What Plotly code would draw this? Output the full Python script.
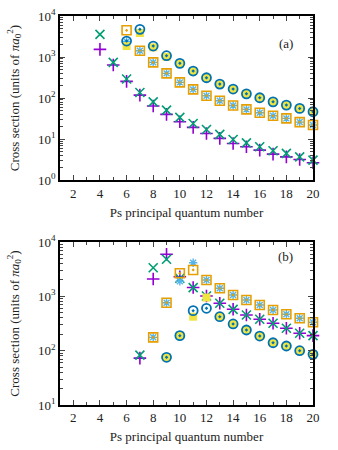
"""Ps formation cross sections, two panels, log scale."""
import plotly.graph_objects as go
from plotly.subplots import make_subplots

# panel (a)
n_a_pair1 = list(range(4, 21))
plus_a = [1540, 638, 255, 118, 64, 40, 26.5, 19.3, 13.7, 10.4, 7.8, 6.5, 5.4, 4.3, 3.7, 3.2, 2.65]
cross_a = [3580, 741, 291, 137, 81, 51, 33.8, 24, 17.2, 13.0, 9.8, 8.1, 6.5, 5.2, 4.5, 3.7, 3.07]

n_a_pair2 = list(range(6, 21))
star_a = [2400, 1425, 741, 400, 241, 163, 114, 86, 66, 53, 43.8, 37, 32, 26, 22]
square_a = [4480, 1425, 741, 400, 241, 163, 114, 86, 66, 53, 43.8, 37, 32, 26, 22]
filled_a = [1850, 3850, 1720, 1010, 690, 450, 310, 217, 165, 126, 101, 80, 67, 55.5, 46]
circle_a = [2455, 4730, 1855, 1077, 702, 456, 313, 219, 166, 127, 102, 81, 67.5, 56, 46.4]

# panel (b)
n_b_pair1 = list(range(7, 21))
plus_b = [73, 2085, 5940, 2300, 1450, 1014, 745, 577, 454, 378, 319, 258, 209, 189]
cross_b = [83, 3365, 4810, 2150, 1450, 1014, 745, 577, 454, 378, 319, 258, 209, 189]

n_b_pair2 = list(range(8, 21))
star_b = [176, 763, 1900, 4160, 1995, 1406, 1060, 857, 693, 561, 467, 394, 333]
square_b = [176, 763, 2655, 3055, 1995, 1406, 1060, 857, 693, 561, 467, 394, 333]

n_b_pair3 = list(range(9, 21))
filled_b = [75, 189, 422, 950, 422, 310, 240, 186, 140, 122, 99.8, 85.7]
circle_b = [75.5, 189, 545, 603, 422, 310, 240, 186, 140, 122, 99.8, 85.7]

FONT = "Liberation Serif, DejaVu Serif, serif"
TXT = "#222222"
PURPLE, GREEN, LBLUE = "#9400d3", "#009e73", "#56b4e9"
ORANGE, YELLOW, BLUE = "#e69f00", "#f0e442", "#0072b2"

fig = make_subplots(rows=2, cols=1, vertical_spacing=0.16)


def add_panel(row, sets):
    for x, y, sym, col, size, lw in sets:
        fig.add_trace(go.Scatter(
            x=x, y=y, mode="markers", cliponaxis=False, showlegend=False,
            marker=dict(symbol=sym, size=size, color=col,
                        line=dict(color=col, width=lw)),
        ), row=row, col=1)


add_panel(1, [
    (n_a_pair1, plus_a, "cross-thin-open", PURPLE, 9, 1.6),
    (n_a_pair1, cross_a, "x-thin-open", GREEN, 9, 1.6),
    (n_a_pair2, star_a, "asterisk-open", LBLUE, 7, 1.4),
    (n_a_pair2, square_a, "square-open-dot", ORANGE, 9, 1.6),
    (n_a_pair2, filled_a, "square", YELLOW, 8, 0),
    (n_a_pair2, circle_a, "circle-open-dot", BLUE, 9, 1.8),
])
add_panel(2, [
    (n_b_pair1, plus_b, "cross-thin-open", PURPLE, 9, 1.6),
    (n_b_pair1, cross_b, "x-thin-open", GREEN, 9, 1.6),
    (n_b_pair2, star_b, "asterisk-open", LBLUE, 7, 1.4),
    (n_b_pair2, square_b, "square-open-dot", ORANGE, 9, 1.6),
    (n_b_pair3, filled_b, "square", YELLOW, 8, 0),
    (n_b_pair3, circle_b, "circle-open-dot", BLUE, 9, 1.8),
])

minor_vals = [m * 10 ** e for e in range(0, 4) for m in range(2, 10)]

xax = dict(
    range=[1, 20], tickvals=list(range(2, 21, 2)), ticks="inside", ticklen=5,
    showline=True, linecolor="black", linewidth=1.5, mirror="ticks",
    showgrid=False, zeroline=False, automargin=False,
    minor=dict(tickvals=list(range(1, 21)), ticks="inside", ticklen=3, showgrid=False),
    tickfont=dict(family=FONT, size=13, color=TXT),
    title=dict(text="Ps principal quantum number",
               font=dict(family=FONT, size=13, color=TXT), standoff=8),
)
yax = dict(
    type="log", ticks="inside", ticklen=5,
    showline=True, linecolor="black", linewidth=1.5, mirror="ticks",
    showgrid=False, zeroline=False, automargin=False,
    minor=dict(tickvals=minor_vals, ticks="inside", ticklen=3, showgrid=False),
    tickfont=dict(family=FONT, size=13, color=TXT),
    title=dict(text="Cross section (units of <i>πa</i><sub>0</sub><sup>2</sup>)",
               font=dict(family=FONT, size=13, color=TXT), standoff=16),
)

fig.update_xaxes(**xax)
fig.update_yaxes(**yax)
fig.update_yaxes(range=[0, 4], tickvals=[1, 10, 100, 1000, 10000],
                 ticktext=["10<sup>0</sup>", "10<sup>1</sup>", "10<sup>2</sup>",
                           "10<sup>3</sup>", "10<sup>4</sup>"], row=1, col=1)
fig.update_yaxes(range=[1, 4], tickvals=[10, 100, 1000, 10000],
                 ticktext=["10<sup>1</sup>", "10<sup>2</sup>",
                           "10<sup>3</sup>", "10<sup>4</sup>"], row=2, col=1)
fig.update_layout(
    xaxis=dict(domain=[0, 1]), yaxis=dict(domain=[0.578, 1]),
    xaxis2=dict(domain=[0, 1]), yaxis2=dict(domain=[0, 0.419]),
)

fig.add_annotation(text="(a)", x=0.93, y=0.955, xref="paper", yref="paper",
                   showarrow=False, font=dict(family=FONT, size=13, color=TXT))
fig.add_annotation(text="(b)", x=0.93, y=0.382, xref="paper", yref="paper",
                   showarrow=False, font=dict(family=FONT, size=13, color=TXT))

fig.update_layout(
    template="plotly_white",
    font=dict(family=FONT, color=TXT),
    width=338, height=450,
    margin=dict(l=60, r=25, t=16, b=45),
    plot_bgcolor="white", paper_bgcolor="white",
)

# the page body has a default 8px margin; drop it so the figure fills the window
fig.write_html("out.html", config={"displayModeBar": False},
               post_script="document.body.style.margin = '0px';")
